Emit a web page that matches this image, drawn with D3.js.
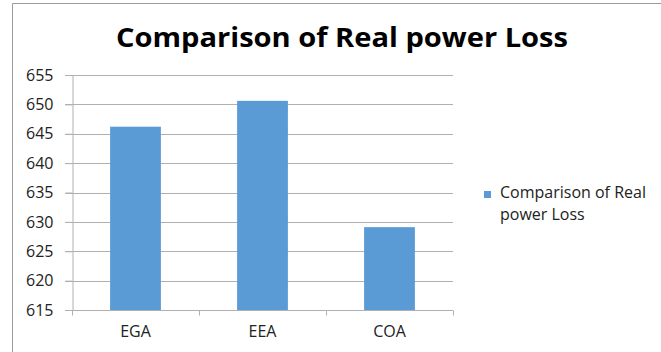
<!DOCTYPE html>
<html>
<head>
<meta charset="utf-8">
<script src="https://cdnjs.cloudflare.com/ajax/libs/d3/7.8.5/d3.min.js"></script>
<style>
  body { margin: 0; background: #fff; }
  svg text { font-family: "Open Sans", "Liberation Sans", sans-serif; fill: #222; }
</style>
</head>
<body>
<div id="chart"></div>
<script>
// chart data
var categories = ['EGA', 'EEA', 'COA'];
var lossValues = [646.2, 650.6, 629.1];
var yTicks = [615, 620, 625, 630, 635, 640, 645, 650, 655];
var seriesName = 'Comparison of Real power Loss';

var width = 661, height = 352;
var plot = { left: 72, right: 453, top: 75, bottom: 310 };

var svg = d3.select('#chart').append('svg')
  .attr('width', width)
  .attr('height', height);

// outer frame (only top and left visible in the crop)
svg.append('path')
  .attr('d', 'M12.5 352 L12.5 3.5 L661 3.5')
  .attr('fill', 'none')
  .attr('stroke', '#9a9a9a')
  .attr('stroke-width', 1);

var x = d3.scaleBand()
  .domain(categories)
  .range([plot.left, plot.right])
  .paddingInner(0.6)
  .paddingOuter(0.3);

var y = d3.scaleLinear()
  .domain([615, 655])
  .range([plot.bottom, plot.top]);

// gridlines
svg.append('g')
  .selectAll('line')
  .data(yTicks)
  .enter().append('line')
  .attr('x1', plot.left - 7)
  .attr('x2', plot.right)
  .attr('y1', function(d) { return Math.round(y(d)) + 0.5; })
  .attr('y2', function(d) { return Math.round(y(d)) + 0.5; })
  .attr('stroke', '#b0b0b0')
  .attr('stroke-width', 1);

// y axis
var yAxis = svg.append('g')
  .attr('transform', 'translate(' + (plot.left + 0.5) + ',0)')
  .call(d3.axisLeft(y).tickValues(yTicks).tickSize(7).tickPadding(12));
yAxis.select('.domain').attr('stroke', '#b0b0b0');
yAxis.selectAll('.tick line').attr('stroke', '#b0b0b0');
yAxis.selectAll('.tick text')
  .attr('font-size', 16)
  .attr('fill', '#222');

// bars
svg.append('g')
  .selectAll('rect')
  .data(lossValues)
  .enter().append('rect')
  .attr('x', function(d, i) { return x(categories[i]); })
  .attr('y', function(d) { return y(d); })
  .attr('width', x.bandwidth())
  .attr('height', function(d) { return y(615) - y(d); })
  .attr('fill', '#5b9bd5');

// x axis
var xAxis = svg.append('g')
  .attr('transform', 'translate(0,' + (plot.bottom + 0.5) + ')');
xAxis.append('line')
  .attr('x1', plot.left).attr('x2', plot.right)
  .attr('stroke', '#b0b0b0');
var bounds = d3.range(categories.length + 1).map(function(i) {
  return plot.left + i * (plot.right - plot.left) / categories.length;
});
xAxis.selectAll('.xt')
  .data(bounds)
  .enter().append('line')
  .attr('class', 'xt')
  .attr('x1', function(d) { return Math.round(d) + 0.5; })
  .attr('x2', function(d) { return Math.round(d) + 0.5; })
  .attr('y1', 0).attr('y2', 5)
  .attr('stroke', '#b0b0b0');
xAxis.selectAll('text')
  .data(categories)
  .enter().append('text')
  .attr('x', function(d) { return x(d) + x.bandwidth() / 2; })
  .attr('y', 26)
  .attr('text-anchor', 'middle')
  .attr('font-size', 16)
  .text(function(d) { return d; });

// title
svg.append('text')
  .attr('x', 342)
  .attr('y', 47)
  .attr('text-anchor', 'middle')
  .attr('font-size', 26)
  .attr('font-weight', 'bold')
  .attr('textLength', 452)
  .attr('lengthAdjust', 'spacingAndGlyphs')
  .style('fill', '#000')
  .text(seriesName);

// legend
var legend = svg.append('g').attr('transform', 'translate(484,191)');
legend.append('rect')
  .attr('width', 7).attr('height', 7)
  .attr('fill', '#5b9bd5');
legend.append('text')
  .attr('x', 16).attr('y', 7)
  .attr('font-size', 16)
  .text('Comparison of Real');
legend.append('text')
  .attr('x', 16).attr('y', 29)
  .attr('font-size', 16)
  .text('power Loss');
</script>
</body>
</html>
